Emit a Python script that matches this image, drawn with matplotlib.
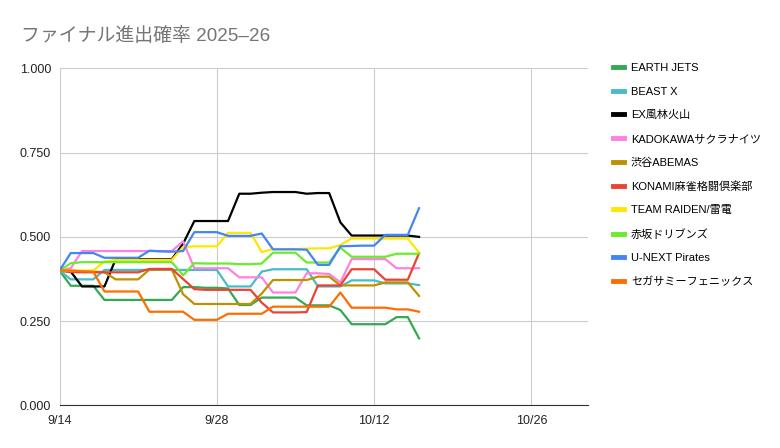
import datetime as dt
import matplotlib
matplotlib.use("Agg")
import matplotlib.pyplot as plt

plt.rcParams['font.family'] = ['Liberation Sans', 'Noto Sans CJK JP']

# one value per day, 9/14 .. 10/16
start = dt.date(2025, 9, 14)
dates = [start + dt.timedelta(days=i) for i in range(33)]

teams = ["EARTH JETS", "BEAST X", "EX風林火山", "KADOKAWAサクラナイツ", "渋谷ABEMAS",
         "KONAMI麻雀格闘倶楽部", "TEAM RAIDEN/雷電", "赤坂ドリブンズ", "U-NEXT Pirates",
         "セガサミーフェニックス"]
colors = ["#34a853", "#46bdc6", "#000000", "#ff80df", "#bf9000",
          "#ea4335", "#ffe600", "#6aeb2b", "#4285f4", "#ff6d01"]

earth_jets = [.400, .355, .355, .355, .313, .313, .313, .313, .313, .313, .313,
              .351, .351, .349, .349, .347, .298, .298, .320, .320, .320, .320,
              .297, .297, .297, .283, .241, .241, .241, .241, .262, .262, .199]
beast_x = [.400, .374, .374, .374, .402, .402, .402, .402, .402, .402, .402,
           .402, .402, .402, .402, .353, .353, .353, .397, .404, .404, .404,
           .404, .353, .353, .353, .371, .371, .371, .362, .362, .362, .357]
ex_furin = [.400, .397, .353, .353, .353, .434, .434, .434, .434, .434, .434,
            .480, .547, .547, .547, .547, .628, .628, .631, .633, .633, .633,
            .628, .630, .630, .543, .504, .504, .504, .504, .504, .504, .500]
kadokawa = [.400, .407, .458, .458, .458, .458, .458, .458, .458, .458, .458,
            .487, .407, .407, .407, .407, .380, .380, .380, .335, .335, .335,
            .392, .392, .390, .365, .434, .434, .434, .434, .407, .407, .407]
abemas = [.400, .400, .398, .397, .395, .374, .374, .374, .403, .403, .403,
          .330, .301, .301, .301, .301, .301, .301, .332, .372, .372, .372,
          .372, .382, .382, .356, .356, .356, .356, .365, .365, .365, .325]
konami = [.400, .396, .395, .395, .395, .395, .395, .395, .405, .405, .405,
          .375, .345, .343, .343, .343, .343, .343, .305, .276, .276, .276,
          .277, .356, .356, .356, .404, .404, .404, .373, .373, .373, .452]
raiden = [.400, .400, .400, .400, .427, .432, .432, .432, .432, .432, .432,
          .470, .472, .472, .472, .512, .512, .512, .455, .464, .464, .464,
          .465, .466, .466, .476, .495, .495, .495, .495, .495, .495, .453]
drivens = [.400, .422, .425, .425, .425, .425, .425, .425, .425, .425, .425,
           .386, .422, .421, .421, .421, .419, .419, .421, .453, .453, .453,
           .424, .424, .424, .468, .441, .441, .441, .441, .450, .450, .450]
pirates = [.400, .452, .452, .452, .438, .438, .438, .438, .459, .457, .456,
           .458, .514, .514, .514, .503, .503, .503, .510, .463, .463, .463,
           .462, .417, .417, .472, .473, .474, .474, .506, .506, .506, .585]
phoenix = [.400, .400, .398, .397, .338, .338, .338, .338, .278, .278, .278,
           .278, .254, .254, .254, .272, .272, .272, .272, .293, .293, .293,
           .293, .293, .293, .335, .290, .290, .290, .290, .285, .285, .278]

series = [earth_jets, beast_x, ex_furin, kadokawa, abemas,
          konami, raiden, drivens, pirates, phoenix]

tick_dates = [dt.date(2025, 9, 14), dt.date(2025, 9, 28),
              dt.date(2025, 10, 12), dt.date(2025, 10, 26)]
y_ticks = [0, 0.25, 0.5, 0.75, 1.0]

fig = plt.figure(figsize=(7.8, 4.48), dpi=100)
ax = fig.add_axes([0.0763, 0.0949, 0.677, 0.7527])

for name, vals, c in zip(teams, series, colors):
    ax.plot(dates, vals, color=c, lw=1.6, label=name, solid_joinstyle='round')

ax.set_xlim(start, start + dt.timedelta(days=47.2))
ax.set_ylim(0, 1)
ax.set_xticks(tick_dates)
ax.set_xticklabels([f"{d.month}/{d.day}" for d in tick_dates])
ax.set_yticks(y_ticks)
ax.set_yticklabels([f"{v:.3f}" for v in y_ticks])
ax.grid(True, color="#cccccc", lw=0.8)
ax.set_axisbelow(True)
for s in ["top", "right", "left"]:
    ax.spines[s].set_visible(False)
ax.spines["bottom"].set_color("#333333")
ax.tick_params(length=0, labelsize=9, colors="#222222")
ax.tick_params(axis='y', pad=6)
ax.tick_params(axis='x', pad=7)

fig.text(0.027, 0.908, "ファイナル進出確率 2025–26", fontsize=13.6, color="#757575")

ax.legend(loc="upper left", bbox_to_anchor=(1.04, 1.028), frameon=False,
          fontsize=8.0, handlelength=1.0, handletextpad=0.6, labelspacing=1.21,
          borderaxespad=0)
leg = ax.get_legend()
for h in leg.get_lines():
    h.set_linewidth(3.5)

fig.savefig("out.png", dpi=100)
